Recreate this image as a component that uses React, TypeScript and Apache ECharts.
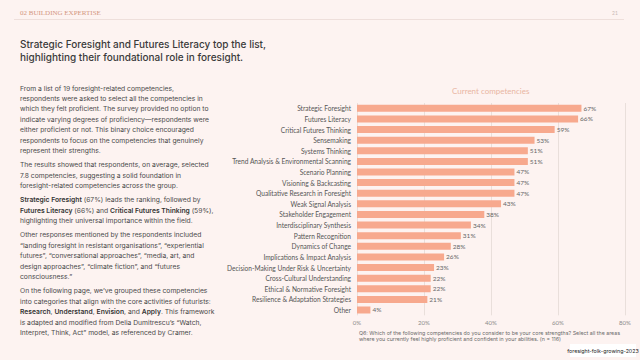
import React, { useEffect, useRef } from "react";
import * as echarts from "echarts";

const categories = [
  "Strategic Foresight",
  "Futures Literacy",
  "Critical Futures Thinking",
  "Sensemaking",
  "Systems Thinking",
  "Trend Analysis & Environmental Scanning",
  "Scenario Planning",
  "Visioning & Backcasting",
  "Qualitative Research in Foresight",
  "Weak Signal Analysis",
  "Stakeholder Engagement",
  "Interdisciplinary Synthesis",
  "Pattern Recognition",
  "Dynamics of Change",
  "Implications & Impact Analysis",
  "Decision-Making Under Risk & Uncertainty",
  "Cross-Cultural Understanding",
  "Ethical & Normative Foresight",
  "Resilience & Adaptation Strategies",
  "Other",
];
const values = [67, 66, 59, 53, 51, 51, 47, 47, 47, 43, 38, 34, 31, 28, 26, 23, 22, 22, 21, 4];
const xTicks = [0, 20, 40, 60, 80];

const headerText = "02 BUILDING EXPERTISE";
const pageNumber = "21";
const titleLines = [
  "Strategic Foresight and Futures Literacy top the list,",
  "highlighting their foundational role in foresight.",
];
const bodyLines = [
  "From a list of 19 foresight-related competencies,",
  "respondents were asked to select all the competencies in",
  "which they felt proficient. The survey provided no option to",
  "indicate varying degrees of proficiency\u2014respondents were",
  "either proficient or not. This binary choice encouraged",
  "respondents to focus on the competencies that genuinely",
  "represent their strengths.",
  "",
  "The results showed that respondents, on average, selected",
  "7.8 competencies, suggesting a solid foundation in",
  "foresight-related competencies across the group.",
  "",
  "**Strategic Foresight** (67%) leads the ranking, followed by",
  "**Futures Literacy** (66%) and **Critical Futures Thinking** (59%),",
  "highlighting their universal importance within the field.",
  "",
  "Other responses mentioned by the respondents included",
  "\u201clanding foresight in resistant organisations\u201d, \u201cexperiential",
  "futures\u201d, \u201cconversational approaches\u201d, \u201cmedia, art, and",
  "design approaches\u201d, \u201cclimate fiction\u201d, and \u201cfutures",
  "consciousness.\u201d",
  "",
  "On the following page, we\u2019ve grouped these competencies",
  "into categories that align with the core activities of futurists:",
  "**Research**, **Understand**, **Envision**, and **Apply**. This framework",
  "is adapted and modified from Delia Dumitrescu\u2019s \u201cWatch,",
  "Interpret, Think, Act\u201d model, as referenced by Cramer.",
];
const chartTitle = "Current competencies";
const footnoteLines = [
  "Q6: Which of the following competencies do you consider to be your core strengths? Select all the areas",
  "where you currently feel highly proficient and confident in your abilities. (n = 116)",
];
const badgeText = "foresight-folk-growing-2023";

const FONT = "Lato";
const BODY = "Inter";

function toRich(line: string) {
  const parts = line.split("**");
  return parts
    .map((p, i) => (p.length === 0 ? "" : `{${i % 2 === 1 ? "b" : "n"}|${p}}`))
    .join("");
}

export default function App() {
  const ref = useRef<HTMLDivElement>(null);
  useEffect(() => {
    if (!ref.current) return;
    const chart = echarts.init(ref.current, null, { renderer: "svg" });

    const graphics: any[] = [];
    graphics.push({
      type: "text",
      left: 20,
      top: 9,
      style: { text: headerText, font: "7px 'Liberation Serif'", fill: "#d39580" },
    });
    graphics.push({
      type: "line",
      shape: { x1: 14, y1: 19.5, x2: 624, y2: 19.5 },
      style: { stroke: "#ead9d5", lineWidth: 0.8 },
    });
    graphics.push({
      type: "text",
      left: 612,
      top: 10,
      style: { text: pageNumber, font: `5px ${FONT}`, fill: "#c9b8b4" },
    });
    titleLines.forEach((t, i) => {
      graphics.push({
        type: "text",
        left: 20,
        top: 38.5 + i * 13.5,
        style: { text: t, fontFamily: BODY, fontSize: 10, fontWeight: 500, fill: "#3a3a3a" },
      });
    });
    let y = 84.5;
    bodyLines.forEach((t) => {
      if (t === "") {
        y += 3.7;
        return;
      }
      graphics.push({
        type: "text",
        left: 20,
        top: y,
        style: {
          text: toRich(t),
          rich: {
            n: { fontFamily: BODY, fontSize: 6.75, fill: "#4a4a4a" },
            b: { fontFamily: BODY, fontSize: 6.75, fontWeight: 600, fill: "#333333" },
          },
        },
      });
      y += 10.45;
    });
    graphics.push({
      type: "text",
      left: 452,
      top: 87,
      style: { text: chartTitle, fontFamily: FONT, fontSize: 8, fill: "#e9b6a3" },
    });
    footnoteLines.forEach((t, i) => {
      graphics.push({
        type: "text",
        left: 359,
        top: 330.5 + i * 6,
        style: { text: t, fontFamily: BODY, fontSize: 5.3, fill: "#6a6a6a" },
      });
    });
    graphics.push({
      type: "rect",
      shape: { x: 570, y: 344, width: 66, height: 13 },
      style: { fill: "#ffffff" },
    });
    graphics.push({
      type: "text",
      x: 603,
      y: 350.5,
      style: {
        text: badgeText,
        fontFamily: BODY,
        fontSize: 5.3,
        fill: "#222222",
        align: "center",
        verticalAlign: "middle",
      },
    });

    chart.setOption({
      animation: false,
      backgroundColor: "#fdf3f1",
      grid: { left: 357, right: 15, top: 103, bottom: 44.7, containLabel: false },
      xAxis: {
        type: "value",
        min: 0,
        max: 80,
        interval: 20,
        axisLine: { show: false },
        axisTick: { show: false },
        splitLine: { show: true, lineStyle: { color: "#e3d9d6", width: 0.8 } },
        axisLabel: {
          formatter: (v: number) => (xTicks.includes(v) ? `${v}%` : ""),
          fontFamily: FONT,
          fontSize: 6,
          color: "#8a8a8a",
          margin: 4,
        },
      },
      yAxis: {
        type: "category",
        data: categories,
        inverse: true,
        axisLine: { show: false },
        axisTick: { show: false },
        axisLabel: { fontFamily: FONT, fontSize: 6.6, color: "#555555", margin: 6 },
      },
      series: [
        {
          type: "bar",
          data: values,
          barWidth: 7,
          itemStyle: { color: "#f7a98e" },
          label: {
            show: true,
            position: "right",
            distance: 2,
            formatter: "{c}%",
            fontFamily: FONT,
            fontSize: 6.5,
            color: "#666666",
          },
        },
      ],
      graphic: graphics,
    });
    return () => chart.dispose();
  }, []);
  return <div ref={ref} style={{ width: 640, height: 360, position: "absolute", left: 0, top: 0 }} />;
}
